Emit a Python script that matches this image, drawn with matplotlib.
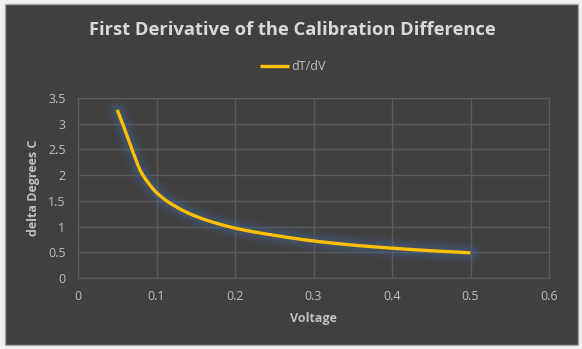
import matplotlib

matplotlib.use("Agg")
import matplotlib.pyplot as plt
from matplotlib.patches import Rectangle
import numpy as np

voltage = [0.05, 0.06, 0.07, 0.08, 0.09, 0.10, 0.12, 0.15, 0.20, 0.25, 0.30, 0.35, 0.40, 0.45, 0.50]
d_temp = [3.27, 2.87, 2.45, 2.07, 1.84, 1.66, 1.43, 1.20, 0.97, 0.83, 0.72, 0.64, 0.58, 0.53, 0.49]

x_ticks = [0, 0.1, 0.2, 0.3, 0.4, 0.5, 0.6]
x_labels = ["0", "0.1", "0.2", "0.3", "0.4", "0.5", "0.6"]
y_ticks = [0, 0.5, 1, 1.5, 2, 2.5, 3, 3.5]
y_labels = ["0", "0.5", "1", "1.5", "2", "2.5", "3", "3.5"]

BG = "#404040"
GRID = "#5A5A5A"
TEXT = "#BFBFBF"
LINE = "#FFC000"

plt.rcParams["font.family"] = ["Open Sans", "DejaVu Sans"]

fig = plt.figure(figsize=(5.82, 3.49), dpi=100, facecolor="#F2F2F2")
fig.patches.append(Rectangle((5 / 582, 4 / 349), 573 / 582, 341 / 349,
                             transform=fig.transFigure, facecolor=BG,
                             edgecolor="#A6A6A6", linewidth=1, zorder=-5))

ax = fig.add_axes([78 / 582, 1 - 278 / 349, 471 / 582, 180 / 349])
ax.set_facecolor(BG)
ax.set_xlim(0, 0.6)
ax.set_ylim(0, 3.5)
ax.set_xticks(x_ticks, x_labels)
ax.set_yticks(y_ticks, y_labels)
ax.tick_params(length=0, colors=TEXT, labelsize=9, pad=9)
ax.grid(color=GRID, linewidth=1)
ax.set_axisbelow(True)
for s in ax.spines.values():
    s.set_color(GRID)

# smooth the series like Excel's smoothed line
xs = np.array(voltage)
ys = np.array(d_temp)
try:
    from scipy.interpolate import PchipInterpolator
    xf = np.linspace(xs[0], xs[-1], 300)
    yf = PchipInterpolator(xs, ys)(xf)
except Exception:
    xf, yf = xs, ys

# soft blue glow under the line
for w, a in [(16, 0.07), (13, 0.09), (10, 0.12), (7, 0.18)]:
    ax.plot(xf, yf, color="#44679E", linewidth=w, alpha=a,
            solid_capstyle="round", zorder=2)
ax.plot(xf, yf, color=LINE, linewidth=2.4, solid_capstyle="butt",
        zorder=3, label="dT/dV")

ax.set_xlabel("Voltage", color=TEXT, fontsize=9, fontweight="bold", labelpad=6)
ax.set_ylabel("delta Degrees C", color=TEXT, fontsize=9, fontweight="bold", labelpad=6)

fig.text(292 / 582, 1 - 30 / 349, "First Derivative of the Calibration Difference",
         ha="center", va="center", color="#D9D9D9", fontsize=13.2, fontweight="bold")

handles, labels = ax.get_legend_handles_labels()
fig.legend(handles[-1:], labels[-1:], loc="center", bbox_to_anchor=(293 / 582, 1 - 67 / 349),
           frameon=False, fontsize=9, handlelength=2.3, handletextpad=0.2, labelcolor=TEXT)

fig.savefig("out.png", dpi=100, facecolor=fig.get_facecolor())
